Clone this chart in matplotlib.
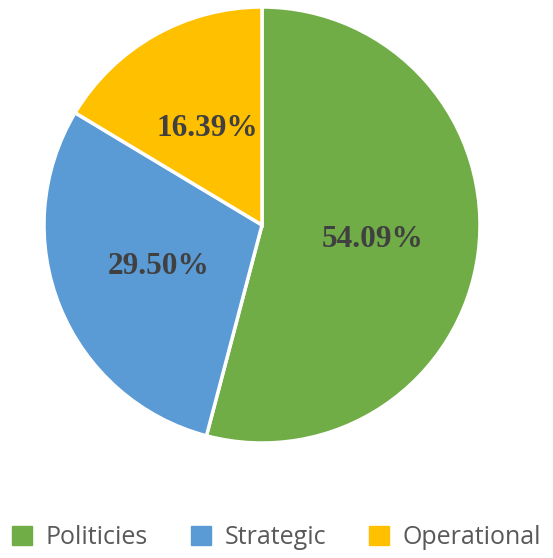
import matplotlib
matplotlib.use("Agg")
import matplotlib.pyplot as plt
from matplotlib.patches import Patch

# data
labels = ["Politicies", "Strategic", "Operational"]
values = [54.09, 29.50, 16.39]
colors = ["#70AD47", "#5B9BD5", "#FFC000"]

W, H = 553, 558
fig = plt.figure(figsize=(W / 100, H / 100), dpi=100)

# pie centred at (262, 225) px, radius ~218 px
cx, cy, r = 262, 225, 218
ax = fig.add_axes([(cx - r) / W, (H - cy - r) / H, 2 * r / W, 2 * r / H])

vals_iter = iter(values)
def show_value(pct):
    # print the original values (they sum to 99.98, so pct would drift)
    return "%.2f%%" % next(vals_iter)

wedges, texts, autotexts = ax.pie(
    values, colors=colors, startangle=90, counterclock=False,
    autopct=show_value, pctdistance=0.51, radius=1,
    wedgeprops=dict(edgecolor="white", linewidth=2.5),
    textprops=dict(fontsize=22.5, fontweight="bold", color="#404040",
                   family="Liberation Serif"))
ax.set_xlim(-1.0, 1.0)
ax.set_ylim(-1.0, 1.0)
ax.set_aspect("equal")

handles = [Patch(facecolor=c, edgecolor=c) for c in colors]
leg = fig.legend(handles, labels, loc="center", bbox_to_anchor=(0.5, 1 - 538 / H),
                 ncol=3, frameon=False, handlelength=0.8,
                 handleheight=0.8, handletextpad=0.55, columnspacing=1.7,
                 prop=dict(family="Open Sans", size=18))
for t in leg.get_texts():
    t.set_color("#595959")

fig.savefig("out.png", dpi=100)
